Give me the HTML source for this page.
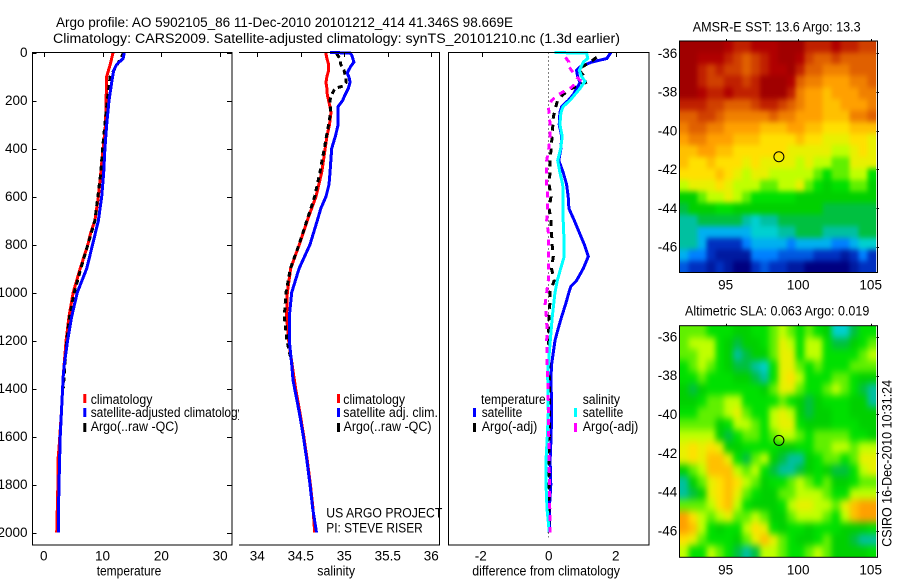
<!DOCTYPE html>
<html lang="en">
<head>
<meta charset="utf-8">
<title>Argo profile</title>
<style>
html,body{margin:0;padding:0;background:#fff;width:900px;height:580px;overflow:hidden}
svg{display:block}
text{font-family:"Liberation Sans",sans-serif;font-size:13.5px;fill:#000}
</style>
</head>
<body>
<svg id="fig" width="900" height="580" viewBox="0 0 900 580" xmlns="http://www.w3.org/2000/svg">
<defs>
<filter id="softSst" filterUnits="userSpaceOnUse" x="640" y="0" width="260" height="320" color-interpolation-filters="sRGB"><feGaussianBlur stdDeviation="2.2 2.6"/></filter>
<filter id="softSla" filterUnits="userSpaceOnUse" x="640" y="290" width="260" height="290" color-interpolation-filters="sRGB"><feGaussianBlur stdDeviation="3 3.6"/></filter>
<clipPath id="clipSst"><rect x="679.5" y="41" width="196.7" height="231.5"/></clipPath>
<clipPath id="clipSla"><rect x="679.5" y="325.7" width="196.7" height="231.6"/></clipPath>
</defs>
<rect width="900" height="580" fill="#fff"/>
<g id="panel1"></g>
<g>
<rect x="83.3" y="394" width="3" height="9" fill="#f00"/>
<rect x="83.3" y="408" width="3" height="9" fill="#00f"/>
<rect x="83.3" y="423" width="3" height="9" fill="#000"/>
<text x="90.7" y="404" textLength="61.7" lengthAdjust="spacingAndGlyphs">climatology</text>
<text x="90.7" y="417" textLength="153" lengthAdjust="spacingAndGlyphs">satellite-adjusted climatology</text>
<text x="90.7" y="431" textLength="87.7" lengthAdjust="spacingAndGlyphs">Argo(..raw -QC)</text>
</g>
<rect x="239" y="46" width="201" height="500" fill="#fff"/>
<g id="panel2"></g>
<g>
<rect x="337" y="394" width="3" height="9" fill="#f00"/>
<rect x="337" y="408" width="3" height="9" fill="#00f"/>
<rect x="337" y="423" width="3" height="9" fill="#000"/>
<text x="343.3" y="404" textLength="61.7" lengthAdjust="spacingAndGlyphs">climatology</text>
<text x="343.3" y="417" textLength="94.7" lengthAdjust="spacingAndGlyphs">satellite adj. clim.</text>
<text x="343.5" y="431" textLength="88" lengthAdjust="spacingAndGlyphs">Argo(..raw -QC)</text>
<text x="326.3" y="517.7" textLength="116" lengthAdjust="spacingAndGlyphs">US ARGO PROJECT</text>
<text x="326.3" y="532.3" textLength="96.4" lengthAdjust="spacingAndGlyphs">PI: STEVE RISER</text>
</g>
<g id="panel3"></g>
<g>
<text x="481" y="404" textLength="64.7" lengthAdjust="spacingAndGlyphs">temperature</text>
<rect x="473" y="408" width="3" height="9" fill="#00f"/>
<rect x="473" y="423" width="3" height="9" fill="#000"/>
<text x="481.7" y="417" textLength="40.6" lengthAdjust="spacingAndGlyphs">satellite</text>
<text x="481.7" y="431" textLength="55.6" lengthAdjust="spacingAndGlyphs">Argo(-adj)</text>
<text x="582.7" y="404" textLength="37.3" lengthAdjust="spacingAndGlyphs">salinity</text>
<rect x="574" y="408" width="3" height="9" fill="#0ff"/>
<rect x="574" y="423" width="3" height="9" fill="#f0f"/>
<text x="582.7" y="417" textLength="40.6" lengthAdjust="spacingAndGlyphs">satellite</text>
<text x="582.7" y="431" textLength="55.6" lengthAdjust="spacingAndGlyphs">Argo(-adj)</text>
</g>
<g id="map1"></g>
<g id="map2"></g>
<text x="56" y="27" textLength="457" lengthAdjust="spacingAndGlyphs">Argo profile: AO 5902105_86 11-Dec-2010 20101212_414 41.346S 98.669E</text>
<text x="53" y="43" textLength="567" lengthAdjust="spacingAndGlyphs">Climatology: CARS2009. Satellite-adjusted climatology: synTS_20101210.nc (1.3d earlier)</text>
<text x="96.7" y="575.5" textLength="64.6" lengthAdjust="spacingAndGlyphs">temperature</text>
<text x="317.3" y="575.5" textLength="37.7" lengthAdjust="spacingAndGlyphs">salinity</text>
<text x="472.3" y="575.5" textLength="147.7" lengthAdjust="spacingAndGlyphs">difference from climatology</text>
<text x="692.7" y="31.7" textLength="168" lengthAdjust="spacingAndGlyphs">AMSR-E SST: 13.6 Argo: 13.3</text>
<text x="685" y="315.7" textLength="184.3" lengthAdjust="spacingAndGlyphs">Altimetric SLA: 0.063 Argo: 0.019</text>
<text transform="translate(891.5,546.7) rotate(-90)" x="0" y="0" textLength="166.7" lengthAdjust="spacingAndGlyphs">CSIRO 16-Dec-2010 10:31:24</text>
</svg>
<script>
// ---- temperature panel data ----
const tempClimDepth = [0,50,100,200,300,400,500,600,700,750,800,900,1000,1100,1200,1350,1500,1650,1700,1800,1900,2000];
const tempClimValue = [11.8,11.3,10.7,10.6,10.5,10.1,9.7,9.3,8.7,8.0,7.5,6.2,5.0,4.3,3.8,3.3,3.0,2.6,2.4,2.4,2.3,2.2];
const tempSatDepth = [0,25,50,75,100,200,300,400,500,600,700,800,900,1000,1100,1200,1300,1350,1500,1600,1700,1800,1900,2000];
const tempSatValue = [13.7,13.5,12.4,11.9,11.7,11.1,10.7,10.4,10.2,9.85,9.3,8.3,7.3,5.7,4.75,4.05,3.5,3.3,3.0,2.8,2.7,2.6,2.5,2.5];
const tempArgoDepth = [0,50,100,200,300,400,500,600,700,800,900,1000,1100,1200,1400];
const tempArgoValue = [13.6,12.5,11.3,10.8,10.4,10.0,9.7,9.2,8.7,7.5,6.3,5.2,4.4,3.9,3.3];
const tempTicks = [0,10,20,30];
const depthTicks = [0,200,400,600,800,1000,1200,1400,1600,1800,2000];
// ---- salinity panel data ----
const salClimDepth = [0,25,50,75,100,125,150,175,200,225,250,300,350,400,500,600,700,800,900,1000,1100,1200,1300,1400,1500,1600,1700,1800,1900,2000];
const salClimValue = [34.786,34.80,34.82,34.82,34.80,34.79,34.80,34.805,34.82,34.835,34.847,34.83,34.80,34.78,34.74,34.675,34.575,34.483,34.384,34.345,34.337,34.36,34.40,34.44,34.49,34.535,34.575,34.61,34.64,34.66];
const salSatDepth = [0,2,10,40,60,85,110,125,150,175,200,225,250,300,350,400,500,550,600,650,700,800,900,1000,1100,1200,1300,1365,1500,1600,1700,1800,1900,2000];
const salSatValue = [34.835,35.065,35.085,35.11,35.07,35.035,35.06,35.065,35.046,35.01,34.98,34.93,34.93,34.93,34.897,34.855,34.836,34.824,34.79,34.73,34.69,34.606,34.48,34.395,34.368,34.368,34.395,34.41,34.483,34.53,34.57,34.606,34.637,34.68];
const salArgoDepth = [5,25,50,75,100,125,140,150,175,200,250,300,400,500,600,700,800,900,1000,1100,1200,1300];
const salArgoValue = [34.91,34.95,34.96,34.997,35.016,35.02,34.98,34.893,34.855,34.835,34.843,34.82,34.77,34.72,34.66,34.57,34.48,34.38,34.33,34.31,34.34,34.40];
const salTicks = [34,34.5,35,35.5,36];
const salTickLabels = ['34','34.5','35','35.5','36'];
// ---- difference panel data ----
const diffTempDepth = [0,15,25,40,60,75,100,125,150,175,200,225,250,300,350,400,450,500,550,600,650,700,750,800,850,900,950,975,1000,1050,1100,1150,1200,1250,1300,1350,1500,1600,1700,1800,1900,2000];
const diffTempValue = [1.85,1.78,1.73,1.28,0.93,0.83,0.86,0.93,0.83,0.73,0.58,0.385,0.33,0.31,0.385,0.36,0.30,0.43,0.53,0.58,0.60,0.76,0.91,1.06,1.18,1.03,0.83,0.66,0.60,0.50,0.385,0.28,0.185,0.135,0.085,0.066,0.085,0.07,0.04,0.06,0.016,0.016];
const diffSalDepth = [0,3,25,40,75,100,120,150,175,200,225,250,300,350,400,450,500,550,600,700,800,850,900,950,1000,1100,1200,1300,1350,1500,1600,1700,1800,1900,2000];
const diffSalValue = [0.165,1.13,1.16,1.03,0.91,0.98,1.08,0.93,0.78,0.63,0.43,0.36,0.33,0.40,0.355,0.265,0.33,0.415,0.43,0.43,0.46,0.46,0.355,0.255,0.185,0.105,0.045,-0.015,-0.033,-0.015,-0.045,-0.084,-0.084,-0.054,0.015];
const diffArgoTDepth = [20,40,70,100,125,150,175,200,225,270,325,375,450,500,550,600,650,700,800,850,900,950,1000,1050,1100,1200,1400,2000];
const diffArgoTValue = [1.43,1.23,0.88,1.06,1.10,0.68,0.43,0.265,0.21,0.135,0.11,0.085,0.04,0.036,0.01,0.066,0.01,0.066,0.10,0.135,0.08,0.165,0.03,0.03,0.0,-0.01,0.02,0.0];
const diffArgoSDepth = [20,40,50,75,100,115,150,175,200,225,250,300,350,400,450,500,550,600,650,700,750,800,850,900,950,1000,1050,1100,1150,1200,1300,1400,2000];
const diffArgoSValue = [0.50,0.60,0.56,0.68,0.81,0.93,0.63,0.28,0.085,-0.015,0.01,0.036,0.036,0.0,-0.063,-0.07,-0.063,-0.033,-0.04,-0.063,-0.015,-0.015,-0.015,-0.015,-0.015,-0.063,-0.11,-0.075,-0.055,-0.063,-0.055,-0.02,0.04];
const diffTicks = [-2,0,2];
// ---- map data: colour levels on a 0-22 scale ----
const sstLevels = [
[22,22,22,22,22,21,20,20,21,21,21,22,22,22,20,20,20,21,20,20,19,19],
[22,22,21,21,21,20,19,18,19,20,21,22,22,21,19,18,18,19,18,18,18,18],
[22,22,20,19,20,19,19,18,19,20,21,21,22,20,18,18,17,17,17,18,18,18],
[22,22,20,19,19,20,20,19,20,22,22,22,21,18,17,17,16,16,16,17,17,18],
[22,22,21,20,20,21,20,20,20,22,22,22,20,17,16,16,15,16,16,16,17,17],
[20,20,20,19,19,18,18,18,19,20,20,19,18,17,16,16,15,15,16,16,16,17],
[18,18,19,19,18,17,17,17,17,17,18,17,17,16,16,16,15,15,15,17,17,18],
[17,18,18,17,17,16,16,16,16,15,15,15,16,16,15,15,14,14,14,15,15,15],
[16,17,17,16,16,16,15,15,15,14,14,14,14,15,14,14,13,13,13,14,14,13],
[15,15,16,16,15,15,14,14,14,14,14,14,13,13,13,13,13,12,12,13,14,13],
[15,14,14,15,14,14,14,13,14,13,13,13,13,12,13,12,12,11,11,13,13,13],
[14,14,14,14,15,14,13,12,13,13,12,12,12,12,12,11,10,11,11,12,12,10],
[12,13,13,13,14,13,12,12,12,11,11,12,12,13,11,10,9,10,10,11,11,9],
[9,9,11,12,12,13,12,11,10,10,10,10,10,9,9,9,9,9,9,9,9,9],
[8,9,9,9,10,10,9,9,9,9,9,9,9,9,9,9,8,8,8,8,8,8],
[7,7,8,8,8,8,8,7,6,7,7,8,8,8,8,8,8,8,8,8,8,8],
[7,7,5,5,5,5,5,5,6,6,6,7,7,8,8,8,7,7,7,7,8,8],
[7,7,5,2,2,2,2,4,5,5,5,5,4,5,5,5,5,4,4,5,6,6],
[5,4,4,2,1,1,1,1,4,4,4,3,3,3,3,2,2,2,1,2,4,2],
[3,2,2,1,2,1,0,0,2,3,2,2,1,1,0,0,0,0,0,1,2,2]
];
const slaLevels = [
[11,11,11,10,10,10,9,9,10,10,11,12,11,10,11,10,9,6,6,8,10,10],
[11,12,12,12,10,9,8,9,9,10,11,13,12,10,12,12,10,8,8,9,10,11],
[11,11,12,12,10,9,7,8,9,9,11,13,13,10,12,12,10,10,10,10,11,12],
[10,11,12,11,10,9,8,8,7,6,10,13,13,11,10,11,10,10,10,11,11,11],
[10,10,11,10,10,10,9,9,8,7,10,13,14,12,10,10,10,11,11,10,9,9],
[9,8,9,10,10,10,10,10,10,9,11,13,13,11,10,10,11,12,11,10,8,7],
[9,9,10,11,11,12,12,10,10,10,10,11,10,9,8,9,10,10,10,9,9,7],
[10,10,11,11,11,12,13,11,10,10,12,13,12,9,8,9,9,10,10,9,9,9],
[11,11,11,11,9,10,12,12,11,10,12,13,13,10,9,9,9,10,10,10,9,9],
[12,12,12,12,9,8,10,11,11,10,11,12,12,11,10,11,11,11,11,10,10,9],
[13,14,13,14,13,9,9,10,10,10,10,9,9,10,10,11,11,12,12,11,12,12],
[13,14,13,15,15,13,10,8,11,12,9,8,7,7,9,10,11,11,10,11,13,13],
[9,11,12,15,15,15,12,11,12,10,8,7,7,8,9,10,9,8,8,10,12,13],
[7,9,11,13,14,15,14,12,11,9,10,10,11,12,11,10,11,9,9,10,11,11],
[7,8,9,13,14,15,13,11,10,9,9,11,11,12,12,12,11,10,10,12,12,12],
[11,11,11,12,14,15,12,10,9,9,9,10,12,13,13,12,12,11,13,15,16,16],
[16,14,12,11,12,13,11,11,12,11,9,9,11,12,12,12,11,10,12,15,16,16],
[16,15,12,10,9,10,10,12,14,13,10,9,10,10,9,10,10,10,9,9,9,10],
[14,13,11,10,10,10,9,11,13,15,13,11,10,9,9,10,11,9,9,8,7,7],
[12,10,10,12,11,10,8,7,8,12,12,11,10,10,11,12,11,9,9,9,9,10]
];
const colourScale = ['#000080','#001aa0','#0030c0','#0058e0','#0080ff','#00b0f0','#00d0d0','#00c0a0','#00c040','#00d000','#00e000','#60f000','#c0ff00','#e8f000','#ffe000','#ffc000','#ffa000','#f08000','#e06000','#d04000','#c02000','#b00000','#a00000'];
const lonTicks = [95,100,105];
const latTicks = [-36,-38,-40,-42,-44,-46];
const floatLon = 98.669;
const floatLat = -41.346;

const NS = 'http://www.w3.org/2000/svg';
// axis functions
const yDepth = d => 52.5 + 0.24 * d;
const xTemp = v => 43.76 + 5.88 * v;
const xSal = v => 257.3 + 87 * (v - 34);
const xDiff = v => 548.8 + 33.5 * v;
const mapX = lon => 725.7 + 14.5 * (lon - 95);
const map1Y = lat => 53.3 + 19.35 * (-36 - lat);
const map2Y = lat => 336.7 + 19.4 * (-36 - lat);

function mk(parent, tag, attrs, txt) {
  const el = document.createElementNS(NS, tag);
  for (const k in attrs) el.setAttribute(k, attrs[k]);
  if (txt !== undefined) el.textContent = txt;
  parent.appendChild(el);
  return el;
}
function pts(depths, values, xf) {
  return depths.map((d, i) => xf(values[i]).toFixed(1) + ',' + yDepth(d).toFixed(1)).join(' ');
}
function seriesLine(parent, depths, values, xf, colour, dash) {
  const attrs = {points: pts(depths, values, xf), fill: 'none', stroke: colour, 'stroke-width': 3, 'shape-rendering': 'crispEdges'};
  if (dash) attrs['stroke-dasharray'] = dash;
  return mk(parent, 'polyline', attrs);
}
function axisLine(parent, x1, y1, x2, y2) {
  return mk(parent, 'line', {x1: x1, y1: y1, x2: x2, y2: y2, stroke: '#000', 'stroke-width': 1});
}

// Panel 1
const p1 = document.getElementById('panel1');
const tl = seriesLine(p1, tempClimDepth, tempClimValue, xTemp, '#f00');


const ta = seriesLine(p1, tempArgoDepth, tempArgoValue, xTemp, '#000', '5 4');


const ts = seriesLine(p1, tempSatDepth, tempSatValue, xTemp, '#00f');


const p1Box = mk(p1, 'rect', {x: 32.5, y: 52.5, width: 199.5, height: 492.5, fill: 'none', stroke: '#000', 'stroke-width': 1});


tempTicks.forEach(v => {
  const x = Math.round(xTemp(v)) + 0.5;
  const t = axisLine(p1, x, 52.5, x, 57);
  
  
  const l = mk(p1, 'text', {x: xTemp(v), y: 560.7, 'text-anchor': 'middle'}, String(v));
  
  
});
depthTicks.forEach(d => {
  const y = Math.round(yDepth(d)) + 0.5;
  const a = axisLine(p1, 32.5, y, 36.5, y);
  
  
  const b = axisLine(p1, 227, y, 232, y);
  
  
  const l = mk(p1, 'text', {x: 27.5, y: yDepth(d) + 4.7, 'text-anchor': 'end'}, String(d));
  
  
});

// Panel 2
const p2 = document.getElementById('panel2');
const sl = seriesLine(p2, salClimDepth, salClimValue, xSal, '#f00');


const sa = seriesLine(p2, salArgoDepth, salArgoValue, xSal, '#000', '5 4');


const ss = seriesLine(p2, salSatDepth, salSatValue, xSal, '#00f');


const p2Top = axisLine(p2, 239, 52.5, 440, 52.5);


const p2Bottom = axisLine(p2, 239, 545, 440, 545);


const p2Right = axisLine(p2, 439.5, 52.5, 439.5, 545);


salTicks.forEach((v, i) => {
  const x = Math.round(xSal(v)) + 0.5;
  const t = axisLine(p2, x, 52.5, x, 57);
  
  
  const l = mk(p2, 'text', {x: xSal(v), y: 560.7, 'text-anchor': 'middle'}, salTickLabels[i]);
  
  
});

// Panel 3
const p3 = document.getElementById('panel3');
const zeroX = Math.floor(xDiff(0)) + 0.5;
const zero = mk(p3, 'line', {x1: zeroX, y1: yDepth(0), x2: zeroX, y2: yDepth(2020), stroke: '#000', 'stroke-width': 1, 'stroke-dasharray': '1 3'});


const dt = seriesLine(p3, diffTempDepth, diffTempValue, xDiff, '#00f');


const dat = seriesLine(p3, diffArgoTDepth, diffArgoTValue, xDiff, '#000', '6 6');


const ds = seriesLine(p3, diffSalDepth, diffSalValue, xDiff, '#0ff');


const das = seriesLine(p3, diffArgoSDepth, diffArgoSValue, xDiff, '#f0f', '6 6');


const p3Box = mk(p3, 'rect', {x: 448.5, y: 52.5, width: 200.5, height: 492.5, fill: 'none', stroke: '#000', 'stroke-width': 1});


diffTicks.forEach(v => {
  const x = Math.round(xDiff(v)) + 0.5;
  if (v !== 0) {
    const t = axisLine(p3, x, 52.5, x, 57);
    
    
  }
  const l = mk(p3, 'text', {x: xDiff(v) - (v < 0 ? 1 : 0), y: 560.7, 'text-anchor': 'middle'}, v < 0 ? '-' + Math.abs(v) : String(v));
  
  
});

// Maps
function drawMap(group, levels, top, bottom, yOf, clipId, filterId) {
  const left = 679.5, right = 876.2, boxRight = 877.5, bleed = 14;
  const cols = levels[0].length, rows = levels.length;
  const cw = (right - left) / cols;
  const ch = (bottom - top) / rows;
  const clip = mk(group, 'g', {'clip-path': 'url(#' + clipId + ')'});
  
  
  const soft = mk(clip, 'g', {filter: 'url(#' + filterId + ')'});
  
  
  levels.forEach((row, r) => {
    row.forEach((v, c) => {
      // border cells bleed outward so the smoothing does not fade at the frame
      const x0 = left + c * cw - (c === 0 ? bleed : 0);
      const x1 = left + (c + 1) * cw + (c === cols - 1 ? bleed : 0);
      const y0 = top + r * ch - (r === 0 ? bleed : 0);
      const y1 = top + (r + 1) * ch + (r === rows - 1 ? bleed : 0);
      const cell = mk(soft, 'rect', {x: x0.toFixed(2), y: y0.toFixed(2), width: (x1 - x0 + 0.4).toFixed(2), height: (y1 - y0 + 0.4).toFixed(2), fill: colourScale[v], 'shape-rendering': 'crispEdges'});
      
      
    });
  });
  const box = mk(group, 'rect', {x: left, y: top, width: boxRight - left, height: bottom - top, fill: 'none', stroke: '#000', 'stroke-width': 1});
  
  
  lonTicks.forEach(v => {
    const x = Math.round(mapX(v)) + 0.5;
    const t = axisLine(group, x, top - 2, x, top);
    
    
    const l = mk(group, 'text', {x: mapX(v), y: bottom + 17.2, 'text-anchor': 'middle'}, String(v));
    
    
  });
  latTicks.forEach(v => {
    const y = Math.round(yOf(v)) + 0.5;
    const t = axisLine(group, boxRight - 1, y, boxRight + 1.5, y);
    
    
    const l = mk(group, 'text', {x: 677.3, y: yOf(v) + 4.7, 'text-anchor': 'end'}, '-' + Math.abs(v));
    
    
  });
  const marker = mk(group, 'circle', {cx: mapX(floatLon), cy: yOf(floatLat), r: 5, fill: 'none', stroke: '#000', 'stroke-width': 1});
  
  
}
drawMap(document.getElementById('map1'), sstLevels, 41, 272.5, map1Y, 'clipSst', 'softSst');
drawMap(document.getElementById('map2'), slaLevels, 325.7, 557.3, map2Y, 'clipSla', 'softSla');
</script>
</body>
</html>
